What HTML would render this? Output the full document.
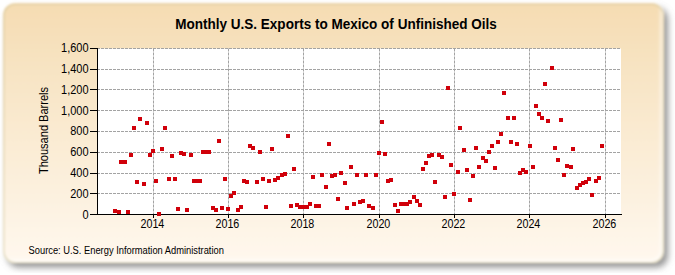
<!DOCTYPE html>
<html><head><meta charset="utf-8"><style>
html,body{margin:0;padding:0;background:#fff;width:675px;height:275px;overflow:hidden}
svg{display:block}
text{font-family:"Liberation Sans",sans-serif;fill:#000}
</style></head><body>
<svg width="675" height="275" viewBox="0 0 675 275">
<defs>
<linearGradient id="bg" x1="0" y1="0" x2="0" y2="1">
<stop offset="0" stop-color="#F5DCB2"/>
<stop offset="0.3" stop-color="#F8E5C6"/>
<stop offset="1" stop-color="#FFF8EE"/>
</linearGradient>
<filter id="sh" x="-5%" y="-10%" width="110%" height="120%">
<feGaussianBlur stdDeviation="3.2"/>
</filter>
<filter id="fb" x="-2%" y="-2%" width="104%" height="104%"><feGaussianBlur stdDeviation="0.8"/></filter>
<filter id="hb" x="-5%" y="-5%" width="110%" height="110%"><feGaussianBlur stdDeviation="1.2"/></filter>
<clipPath id="cp"><rect x="3" y="3" width="661" height="260" rx="12" ry="12"/></clipPath>
</defs>
<g filter="url(#fb)">
<rect x="7" y="7.5" width="661" height="260" rx="12" ry="12" fill="#959595" filter="url(#sh)"/>
<rect x="3" y="3" width="661" height="260" rx="12" ry="12" fill="url(#bg)"/>
<g clip-path="url(#cp)"><rect x="-3" y="-3" width="666" height="265" rx="12" ry="12" fill="none" stroke="#fff" stroke-opacity="0.45" stroke-width="7" filter="url(#hb)"/></g>
<rect x="4" y="4.5" width="659" height="258" rx="11" ry="11" fill="none" stroke="#cfc59a" stroke-opacity="0.6" stroke-width="1.2"/>
</g>
<rect x="97.5" y="48.5" width="523.5" height="166.0" fill="#fff"/>

<g stroke="#a3a3a3" stroke-width="1" stroke-dasharray="3,1"><line x1="97" y1="193.5" x2="621" y2="193.5"/><line x1="97" y1="173.5" x2="621" y2="173.5"/><line x1="97" y1="152.5" x2="621" y2="152.5"/><line x1="97" y1="131.5" x2="621" y2="131.5"/><line x1="97" y1="110.5" x2="621" y2="110.5"/><line x1="97" y1="89.5" x2="621" y2="89.5"/><line x1="97" y1="69.5" x2="621" y2="69.5"/><line x1="97" y1="48.5" x2="621" y2="48.5"/><line x1="153.5" y1="48.5" x2="153.5" y2="214.5"/><line x1="228.5" y1="48.5" x2="228.5" y2="214.5"/><line x1="303.5" y1="48.5" x2="303.5" y2="214.5"/><line x1="379.5" y1="48.5" x2="379.5" y2="214.5"/><line x1="454.5" y1="48.5" x2="454.5" y2="214.5"/><line x1="529.5" y1="48.5" x2="529.5" y2="214.5"/><line x1="605.5" y1="48.5" x2="605.5" y2="214.5"/></g>
<g stroke="#000" stroke-width="1" shape-rendering="crispEdges"><line x1="97.5" y1="48.0" x2="97.5" y2="215.0"/><line x1="97.5" y1="214.5" x2="622" y2="214.5"/><line x1="90" y1="214.5" x2="97.5" y2="214.5"/><line x1="90" y1="193.5" x2="97.5" y2="193.5"/><line x1="90" y1="173.5" x2="97.5" y2="173.5"/><line x1="90" y1="152.5" x2="97.5" y2="152.5"/><line x1="90" y1="131.5" x2="97.5" y2="131.5"/><line x1="90" y1="110.5" x2="97.5" y2="110.5"/><line x1="90" y1="89.5" x2="97.5" y2="89.5"/><line x1="90" y1="69.5" x2="97.5" y2="69.5"/><line x1="90" y1="48.5" x2="97.5" y2="48.5"/><line x1="153.5" y1="214.5" x2="153.5" y2="218.0"/><line x1="228.5" y1="214.5" x2="228.5" y2="218.0"/><line x1="303.5" y1="214.5" x2="303.5" y2="218.0"/><line x1="379.5" y1="214.5" x2="379.5" y2="218.0"/><line x1="454.5" y1="214.5" x2="454.5" y2="218.0"/><line x1="529.5" y1="214.5" x2="529.5" y2="218.0"/><line x1="605.5" y1="214.5" x2="605.5" y2="218.0"/></g>
<text transform="translate(88.6,219.10) scale(0.88,1)" text-anchor="end" font-size="12.5">0</text><text transform="translate(88.6,198.10) scale(0.88,1)" text-anchor="end" font-size="12.5">200</text><text transform="translate(88.6,177.10) scale(0.88,1)" text-anchor="end" font-size="12.5">400</text><text transform="translate(88.6,156.10) scale(0.88,1)" text-anchor="end" font-size="12.5">600</text><text transform="translate(88.6,135.10) scale(0.88,1)" text-anchor="end" font-size="12.5">800</text><text transform="translate(88.6,115.10) scale(0.88,1)" text-anchor="end" font-size="12.5">1,000</text><text transform="translate(88.6,94.10) scale(0.88,1)" text-anchor="end" font-size="12.5">1,200</text><text transform="translate(88.6,73.10) scale(0.88,1)" text-anchor="end" font-size="12.5">1,400</text><text transform="translate(88.6,52.10) scale(0.88,1)" text-anchor="end" font-size="12.5">1,600</text><text transform="translate(152.40,227.8) scale(0.86,1)" text-anchor="middle" font-size="12.5">2014</text><text transform="translate(227.40,227.8) scale(0.86,1)" text-anchor="middle" font-size="12.5">2016</text><text transform="translate(302.40,227.8) scale(0.86,1)" text-anchor="middle" font-size="12.5">2018</text><text transform="translate(378.40,227.8) scale(0.86,1)" text-anchor="middle" font-size="12.5">2020</text><text transform="translate(453.40,227.8) scale(0.86,1)" text-anchor="middle" font-size="12.5">2022</text><text transform="translate(528.40,227.8) scale(0.86,1)" text-anchor="middle" font-size="12.5">2024</text><text transform="translate(604.40,227.8) scale(0.86,1)" text-anchor="middle" font-size="12.5">2026</text>
<text transform="translate(336.0,28.8) scale(0.934,1)" text-anchor="middle" font-size="14.5" font-weight="bold" fill="#000">Monthly U.S. Exports to Mexico of Unfinished Oils</text>
<text transform="translate(48.3,130.5) rotate(-90) scale(0.92,1)" text-anchor="middle" font-size="12">Thousand Barrels</text>
<text transform="translate(28.6,253.6) scale(0.93345,1)" font-size="10.0">Source: U.S. Energy Information Administration</text>
<g fill="#D0000A"><rect x="113" y="209" width="4" height="4"/><rect x="117" y="210" width="4" height="4"/><rect x="119" y="160" width="4" height="4"/><rect x="123" y="160" width="4" height="4"/><rect x="126" y="210" width="4" height="4"/><rect x="129" y="153" width="4" height="4"/><rect x="132" y="126" width="4" height="4"/><rect x="135" y="180" width="4" height="4"/><rect x="138" y="117" width="4" height="4"/><rect x="142" y="182" width="4" height="4"/><rect x="145" y="121" width="4" height="4"/><rect x="148" y="153" width="4" height="4"/><rect x="151" y="149" width="4" height="4"/><rect x="154" y="179" width="4" height="4"/><rect x="157" y="212" width="4" height="4"/><rect x="160" y="147" width="4" height="4"/><rect x="163" y="126" width="4" height="4"/><rect x="167" y="177" width="4" height="4"/><rect x="170" y="154" width="4" height="4"/><rect x="173" y="177" width="4" height="4"/><rect x="176" y="207" width="4" height="4"/><rect x="179" y="151" width="4" height="4"/><rect x="182" y="152" width="4" height="4"/><rect x="185" y="208" width="4" height="4"/><rect x="189" y="153" width="4" height="4"/><rect x="192" y="179" width="4" height="4"/><rect x="195" y="179" width="4" height="4"/><rect x="198" y="179" width="4" height="4"/><rect x="201" y="150" width="4" height="4"/><rect x="204" y="150" width="4" height="4"/><rect x="207" y="150" width="4" height="4"/><rect x="211" y="206" width="4" height="4"/><rect x="214" y="208" width="4" height="4"/><rect x="217" y="139" width="4" height="4"/><rect x="220" y="206" width="4" height="4"/><rect x="223" y="177" width="4" height="4"/><rect x="226" y="207" width="4" height="4"/><rect x="229" y="194" width="4" height="4"/><rect x="232" y="191" width="4" height="4"/><rect x="236" y="208" width="4" height="4"/><rect x="239" y="205" width="4" height="4"/><rect x="242" y="179" width="4" height="4"/><rect x="245" y="180" width="4" height="4"/><rect x="248" y="144" width="4" height="4"/><rect x="251" y="146" width="4" height="4"/><rect x="255" y="180" width="4" height="4"/><rect x="258" y="150" width="4" height="4"/><rect x="261" y="177" width="4" height="4"/><rect x="264" y="205" width="4" height="4"/><rect x="267" y="179" width="4" height="4"/><rect x="270" y="147" width="4" height="4"/><rect x="273" y="178" width="4" height="4"/><rect x="276" y="176" width="4" height="4"/><rect x="280" y="173" width="4" height="4"/><rect x="283" y="172" width="4" height="4"/><rect x="286" y="134" width="4" height="4"/><rect x="289" y="204" width="4" height="4"/><rect x="292" y="167" width="4" height="4"/><rect x="295" y="203" width="4" height="4"/><rect x="298" y="205" width="4" height="4"/><rect x="302" y="205" width="4" height="4"/><rect x="305" y="205" width="4" height="4"/><rect x="308" y="202" width="4" height="4"/><rect x="311" y="175" width="4" height="4"/><rect x="314" y="204" width="4" height="4"/><rect x="317" y="204" width="4" height="4"/><rect x="320" y="173" width="4" height="4"/><rect x="324" y="185" width="4" height="4"/><rect x="327" y="142" width="4" height="4"/><rect x="330" y="174" width="4" height="4"/><rect x="333" y="173" width="4" height="4"/><rect x="336" y="197" width="4" height="4"/><rect x="339" y="171" width="4" height="4"/><rect x="343" y="181" width="4" height="4"/><rect x="345" y="206" width="4" height="4"/><rect x="349" y="165" width="4" height="4"/><rect x="352" y="202" width="4" height="4"/><rect x="355" y="173" width="4" height="4"/><rect x="358" y="200" width="4" height="4"/><rect x="361" y="199" width="4" height="4"/><rect x="364" y="173" width="4" height="4"/><rect x="367" y="204" width="4" height="4"/><rect x="371" y="206" width="4" height="4"/><rect x="374" y="173" width="4" height="4"/><rect x="377" y="151" width="4" height="4"/><rect x="380" y="120" width="4" height="4"/><rect x="383" y="152" width="4" height="4"/><rect x="386" y="179" width="4" height="4"/><rect x="389" y="178" width="4" height="4"/><rect x="393" y="203" width="4" height="4"/><rect x="396" y="209" width="4" height="4"/><rect x="399" y="202" width="4" height="4"/><rect x="402" y="202" width="4" height="4"/><rect x="405" y="202" width="4" height="4"/><rect x="408" y="200" width="4" height="4"/><rect x="412" y="195" width="4" height="4"/><rect x="415" y="199" width="4" height="4"/><rect x="418" y="203" width="4" height="4"/><rect x="421" y="167" width="4" height="4"/><rect x="424" y="161" width="4" height="4"/><rect x="427" y="154" width="4" height="4"/><rect x="430" y="153" width="4" height="4"/><rect x="433" y="180" width="4" height="4"/><rect x="437" y="153" width="4" height="4"/><rect x="440" y="155" width="4" height="4"/><rect x="443" y="195" width="4" height="4"/><rect x="446" y="86" width="4" height="4"/><rect x="449" y="163" width="4" height="4"/><rect x="452" y="192" width="4" height="4"/><rect x="456" y="170" width="4" height="4"/><rect x="458" y="126" width="4" height="4"/><rect x="462" y="148" width="4" height="4"/><rect x="465" y="168" width="4" height="4"/><rect x="468" y="198" width="4" height="4"/><rect x="471" y="174" width="4" height="4"/><rect x="474" y="146" width="4" height="4"/><rect x="477" y="165" width="4" height="4"/><rect x="481" y="156" width="4" height="4"/><rect x="484" y="159" width="4" height="4"/><rect x="487" y="150" width="4" height="4"/><rect x="490" y="144" width="4" height="4"/><rect x="493" y="166" width="4" height="4"/><rect x="496" y="140" width="4" height="4"/><rect x="499" y="132" width="4" height="4"/><rect x="502" y="91" width="4" height="4"/><rect x="506" y="116" width="4" height="4"/><rect x="509" y="140" width="4" height="4"/><rect x="512" y="116" width="4" height="4"/><rect x="515" y="142" width="4" height="4"/><rect x="518" y="171" width="4" height="4"/><rect x="521" y="168" width="4" height="4"/><rect x="524" y="170" width="4" height="4"/><rect x="528" y="144" width="4" height="4"/><rect x="531" y="165" width="4" height="4"/><rect x="534" y="104" width="4" height="4"/><rect x="537" y="112" width="4" height="4"/><rect x="540" y="116" width="4" height="4"/><rect x="543" y="82" width="4" height="4"/><rect x="546" y="119" width="4" height="4"/><rect x="550" y="66" width="4" height="4"/><rect x="553" y="146" width="4" height="4"/><rect x="556" y="158" width="4" height="4"/><rect x="559" y="118" width="4" height="4"/><rect x="562" y="173" width="4" height="4"/><rect x="565" y="164" width="4" height="4"/><rect x="569" y="165" width="4" height="4"/><rect x="571" y="147" width="4" height="4"/><rect x="575" y="186" width="4" height="4"/><rect x="578" y="183" width="4" height="4"/><rect x="581" y="181" width="4" height="4"/><rect x="584" y="180" width="4" height="4"/><rect x="587" y="177" width="4" height="4"/><rect x="590" y="193" width="4" height="4"/><rect x="594" y="179" width="4" height="4"/><rect x="597" y="176" width="4" height="4"/><rect x="600" y="144" width="4" height="4"/></g>
</svg></body></html>
